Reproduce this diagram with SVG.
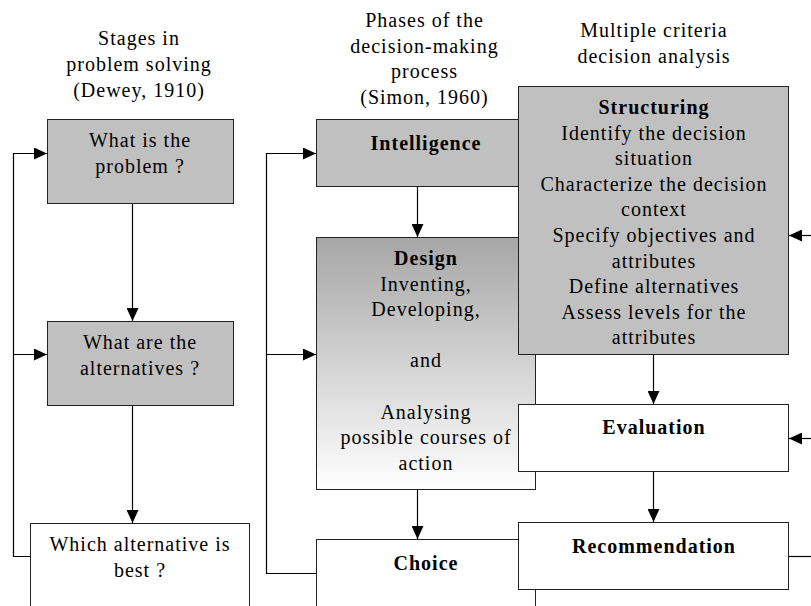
<svg xmlns="http://www.w3.org/2000/svg" width="811" height="606" viewBox="0 0 811 606">
<defs>
<style>
text{font-family:"Liberation Serif","Times New Roman",serif;font-size:20px;letter-spacing:1px;fill:#000;text-anchor:middle}
.b{font-weight:bold}
.box{stroke:#222;stroke-width:1}
.g{fill:#c0c0c0}
.w{fill:#fff}
.c{fill:none;stroke:#000;stroke-width:1.2}
</style>
<linearGradient id="dg" x1="0" y1="0" x2="0" y2="1">
<stop offset="0" stop-color="#a6a6a6"/>
<stop offset="1" stop-color="#ffffff"/>
</linearGradient>
<marker id="ah" markerUnits="userSpaceOnUse" markerWidth="13" markerHeight="12" refX="13" refY="6" orient="auto">
<path d="M0,0 L13,6 L0,12 z" fill="#000"/>
</marker>
</defs>
<g id="headings">
<text x="139" y="45">Stages in</text>
<text x="139" y="71">problem solving</text>
<text x="139" y="97">(Dewey, 1910)</text>
<text x="424.5" y="27">Phases of the</text>
<text x="424.5" y="52.6">decision-making</text>
<text x="424.5" y="78.2">process</text>
<text x="424.5" y="103.8">(Simon, 1960)</text>
<text x="654" y="37">Multiple criteria</text>
<text x="654" y="62.6">decision analysis</text>
</g>
<g id="connectors">
<path class="c" d="M30,556.5 H13.5 V153.5 H47" marker-end="url(#ah)"/>
<path class="c" d="M13.5,354.5 H47" marker-end="url(#ah)"/>
<path class="c" d="M316,573.5 H266.5 V153.5 H316" marker-end="url(#ah)"/>
<path class="c" d="M266.5,354.5 H316" marker-end="url(#ah)"/>
<path class="c" d="M132.5,203.5 V321" marker-end="url(#ah)"/>
<path class="c" d="M132.5,405.5 V523" marker-end="url(#ah)"/>
<path class="c" d="M417.5,186.5 V237" marker-end="url(#ah)"/>
<path class="c" d="M417.5,489.5 V539" marker-end="url(#ah)"/>
<path class="c" d="M653.5,354.5 V404" marker-end="url(#ah)"/>
<path class="c" d="M653.5,471.5 V522" marker-end="url(#ah)"/>
<path class="c" d="M811,235.5 H789" marker-end="url(#ah)"/>
<path class="c" d="M811,438.5 H789" marker-end="url(#ah)"/>
<path class="c" d="M788.5,556.5 H811"/>
</g>
<g id="n1">
<rect class="box g" x="47.5" y="119.5" width="186" height="84"/>
<text x="140" y="147">What is the</text>
<text x="140" y="173">problem ?</text>
</g>
<g id="n2">
<rect class="box g" x="47.5" y="321.5" width="186" height="84"/>
<text x="140" y="349">What are the</text>
<text x="140" y="375">alternatives ?</text>
</g>
<g id="n3">
<rect class="box w" x="30.5" y="523.5" width="219" height="100"/>
<text x="140" y="551">Which alternative is</text>
<text x="140" y="577">best ?</text>
</g>
<g id="intelligence">
<rect class="box g" x="316.5" y="119.5" width="219" height="67"/>
<text class="b" x="426" y="150">Intelligence</text>
</g>
<g id="design">
<rect class="box" fill="url(#dg)" x="316.5" y="237.5" width="219" height="252"/>
<text class="b" x="426" y="265">Design</text>
<text x="426" y="290.6">Inventing,</text>
<text x="426" y="316.2">Developing,</text>
<text x="426" y="367.4">and</text>
<text x="426" y="418.6">Analysing</text>
<text x="426" y="444.2">possible courses of</text>
<text x="426" y="469.8">action</text>
</g>
<g id="choice">
<rect class="box w" x="316.5" y="539.5" width="219" height="100"/>
<text class="b" x="426" y="570">Choice</text>
</g>
<g id="structuring">
<rect class="box g" x="518.5" y="86.5" width="270" height="268"/>
<text class="b" x="654" y="114">Structuring</text>
<text x="654" y="139.6">Identify the decision</text>
<text x="654" y="165.2">situation</text>
<text x="654" y="190.8">Characterize the decision</text>
<text x="654" y="216.4">context</text>
<text x="654" y="242">Specify objectives and</text>
<text x="654" y="267.6">attributes</text>
<text x="654" y="293.2">Define alternatives</text>
<text x="654" y="318.8">Assess levels for the</text>
<text x="654" y="344.4">attributes</text>
</g>
<g id="evaluation">
<rect class="box w" x="518.5" y="404.5" width="270" height="67"/>
<text class="b" x="654" y="434">Evaluation</text>
</g>
<g id="recommendation">
<rect class="box w" x="518.5" y="522.5" width="270" height="67"/>
<text class="b" x="654" y="553">Recommendation</text>
</g>
</svg>
